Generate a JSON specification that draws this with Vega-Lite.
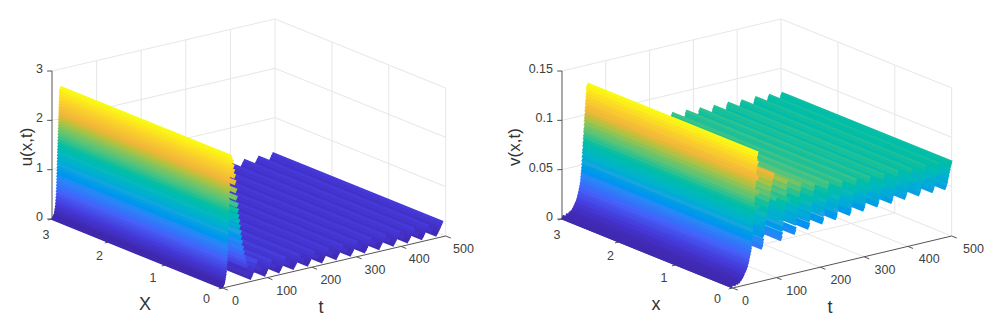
{"$schema":"https://vega.github.io/schema/vega-lite/v6.json","width":993,"height":321,"padding":0,"autosize":{"type":"fit","contains":"padding"},"background":"white","view":{"stroke":null},
"datasets":{
"surface":[
{"p":"u","t":493,"z":0.27},{"p":"u","t":490,"z":0.22},{"p":"u","t":487,"z":0.165},{"p":"u","t":484,"z":0.115},{"p":"u","t":481,"z":0.07},{"p":"u","t":471,"z":0.17},
{"p":"u","t":461,"z":0.27},{"p":"u","t":458,"z":0.22},{"p":"u","t":455,"z":0.165},{"p":"u","t":452,"z":0.115},{"p":"u","t":449,"z":0.07},{"p":"u","t":439,"z":0.17},
{"p":"u","t":429,"z":0.27},{"p":"u","t":426,"z":0.22},{"p":"u","t":423,"z":0.165},{"p":"u","t":420,"z":0.115},{"p":"u","t":417,"z":0.07},{"p":"u","t":407,"z":0.17},
{"p":"u","t":397,"z":0.27},{"p":"u","t":394,"z":0.22},{"p":"u","t":391,"z":0.165},{"p":"u","t":388,"z":0.115},{"p":"u","t":385,"z":0.07},{"p":"u","t":375,"z":0.17},
{"p":"u","t":365,"z":0.27},{"p":"u","t":362,"z":0.22},{"p":"u","t":359,"z":0.165},{"p":"u","t":356,"z":0.115},{"p":"u","t":353,"z":0.07},{"p":"u","t":343,"z":0.17},
{"p":"u","t":333,"z":0.27},{"p":"u","t":330,"z":0.22},{"p":"u","t":327,"z":0.165},{"p":"u","t":324,"z":0.115},{"p":"u","t":321,"z":0.07},{"p":"u","t":311,"z":0.17},
{"p":"u","t":301,"z":0.27},{"p":"u","t":298,"z":0.22},{"p":"u","t":295,"z":0.165},{"p":"u","t":292,"z":0.115},{"p":"u","t":289,"z":0.07},{"p":"u","t":279,"z":0.17},
{"p":"u","t":269,"z":0.27},{"p":"u","t":266,"z":0.22},{"p":"u","t":263,"z":0.165},{"p":"u","t":260,"z":0.115},{"p":"u","t":257,"z":0.07},{"p":"u","t":247,"z":0.17},
{"p":"u","t":237,"z":0.27},{"p":"u","t":234,"z":0.22},{"p":"u","t":231,"z":0.165},{"p":"u","t":228,"z":0.115},{"p":"u","t":225,"z":0.07},{"p":"u","t":215,"z":0.17},
{"p":"u","t":205,"z":0.27},{"p":"u","t":202,"z":0.22},{"p":"u","t":199,"z":0.165},{"p":"u","t":196,"z":0.115},{"p":"u","t":193,"z":0.07},{"p":"u","t":183,"z":0.17},
{"p":"u","t":173,"z":0.28},{"p":"u","t":170,"z":0.22},{"p":"u","t":167,"z":0.165},{"p":"u","t":164,"z":0.115},{"p":"u","t":161,"z":0.07},{"p":"u","t":151,"z":0.17},
{"p":"u","t":141,"z":0.29},{"p":"u","t":138,"z":0.23},{"p":"u","t":135,"z":0.17},{"p":"u","t":132,"z":0.115},{"p":"u","t":129,"z":0.07},{"p":"u","t":119,"z":0.18},
{"p":"u","t":109,"z":0.3},{"p":"u","t":106,"z":0.24},{"p":"u","t":103,"z":0.18},{"p":"u","t":100,"z":0.12},{"p":"u","t":97,"z":0.07},{"p":"u","t":87,"z":0.2},
{"p":"u","t":77,"z":0.36},{"p":"u","t":74,"z":0.28},{"p":"u","t":71,"z":0.2},{"p":"u","t":68,"z":0.13},{"p":"u","t":65,"z":0.07},
{"p":"u","t":60,"z":0.15},{"p":"u","t":56,"z":0.33},{"p":"u","t":53,"z":0.42},{"p":"u","t":50,"z":0.5},{"p":"u","t":48,"z":0.6},{"p":"u","t":46,"z":0.7},{"p":"u","t":44,"z":0.82},{"p":"u","t":42,"z":0.93},{"p":"u","t":41,"z":1.03},{"p":"u","t":39,"z":1.15},{"p":"u","t":38,"z":1.26},{"p":"u","t":36,"z":1.36},{"p":"u","t":35,"z":1.48},{"p":"u","t":34,"z":1.6},{"p":"u","t":32,"z":1.75},{"p":"u","t":31,"z":1.9},{"p":"u","t":29,"z":2.07},{"p":"u","t":28,"z":2.2},{"p":"u","t":26,"z":2.3},{"p":"u","t":25,"z":2.4},{"p":"u","t":23,"z":2.5},{"p":"u","t":21,"z":2.56},{"p":"u","t":19,"z":2.6},{"p":"u","t":18,"z":2.61},
{"p":"u","t":17.3,"z":2.6},{"p":"u","t":17,"z":2.56},{"p":"u","t":16.8,"z":2.5},{"p":"u","t":16.6,"z":2.44},{"p":"u","t":16.4,"z":2.38},{"p":"u","t":16.2,"z":2.32},{"p":"u","t":16,"z":2.26},{"p":"u","t":15.8,"z":2.2},{"p":"u","t":15.6,"z":2.14},{"p":"u","t":15.4,"z":2.08},{"p":"u","t":15.2,"z":2.02},{"p":"u","t":15,"z":1.96},{"p":"u","t":14.8,"z":1.9},{"p":"u","t":14.6,"z":1.84},{"p":"u","t":14.4,"z":1.78},{"p":"u","t":14.2,"z":1.72},{"p":"u","t":14,"z":1.66},{"p":"u","t":13.8,"z":1.6},{"p":"u","t":13.6,"z":1.54},{"p":"u","t":13.4,"z":1.48},{"p":"u","t":13.2,"z":1.42},{"p":"u","t":13,"z":1.36},{"p":"u","t":12.8,"z":1.3},{"p":"u","t":12.6,"z":1.24},{"p":"u","t":12.4,"z":1.18},{"p":"u","t":12.2,"z":1.12},{"p":"u","t":12,"z":1.06},{"p":"u","t":11.8,"z":1.0},{"p":"u","t":11.6,"z":0.94},{"p":"u","t":11.4,"z":0.88},{"p":"u","t":11.2,"z":0.82},{"p":"u","t":11,"z":0.76},{"p":"u","t":10.8,"z":0.7},{"p":"u","t":10.5,"z":0.64},{"p":"u","t":10.2,"z":0.58},{"p":"u","t":9.9,"z":0.52},{"p":"u","t":9.5,"z":0.46},{"p":"u","t":9,"z":0.4},{"p":"u","t":8.5,"z":0.34},{"p":"u","t":8,"z":0.28},{"p":"u","t":7,"z":0.22},{"p":"u","t":6,"z":0.17},{"p":"u","t":5,"z":0.12},{"p":"u","t":4,"z":0.08},{"p":"u","t":3,"z":0.05},{"p":"u","t":2,"z":0.04},{"p":"u","t":0,"z":0.03},
{"p":"v","t":500,"z":0.074},{"p":"v","t":499,"z":0.072},{"p":"v","t":497,"z":0.069},{"p":"v","t":496,"z":0.066},{"p":"v","t":494,"z":0.063},{"p":"v","t":493,"z":0.06},{"p":"v","t":491,"z":0.057},{"p":"v","t":490,"z":0.054},{"p":"v","t":488,"z":0.052},{"p":"v","t":487,"z":0.05},{"p":"v","t":481,"z":0.056},{"p":"v","t":476,"z":0.066},
{"p":"v","t":471,"z":0.075},{"p":"v","t":470,"z":0.073},{"p":"v","t":468,"z":0.07},{"p":"v","t":467,"z":0.067},{"p":"v","t":465,"z":0.064},{"p":"v","t":464,"z":0.06},{"p":"v","t":462,"z":0.057},{"p":"v","t":461,"z":0.054},{"p":"v","t":459,"z":0.052},{"p":"v","t":458,"z":0.05},{"p":"v","t":452,"z":0.056},{"p":"v","t":446,"z":0.066},
{"p":"v","t":440,"z":0.076},{"p":"v","t":439,"z":0.074},{"p":"v","t":437,"z":0.071},{"p":"v","t":436,"z":0.067},{"p":"v","t":434,"z":0.064},{"p":"v","t":433,"z":0.061},{"p":"v","t":431,"z":0.058},{"p":"v","t":430,"z":0.054},{"p":"v","t":428,"z":0.052},{"p":"v","t":427,"z":0.05},{"p":"v","t":420,"z":0.056},{"p":"v","t":414,"z":0.066},
{"p":"v","t":408,"z":0.076},{"p":"v","t":407,"z":0.074},{"p":"v","t":405,"z":0.071},{"p":"v","t":404,"z":0.067},{"p":"v","t":402,"z":0.064},{"p":"v","t":401,"z":0.061},{"p":"v","t":399,"z":0.058},{"p":"v","t":398,"z":0.054},{"p":"v","t":396,"z":0.052},{"p":"v","t":395,"z":0.05},{"p":"v","t":389,"z":0.056},{"p":"v","t":383,"z":0.066},
{"p":"v","t":377,"z":0.077},{"p":"v","t":376,"z":0.075},{"p":"v","t":374,"z":0.071},{"p":"v","t":373,"z":0.068},{"p":"v","t":371,"z":0.064},{"p":"v","t":370,"z":0.061},{"p":"v","t":368,"z":0.057},{"p":"v","t":367,"z":0.054},{"p":"v","t":365,"z":0.051},{"p":"v","t":364,"z":0.049},{"p":"v","t":357,"z":0.056},{"p":"v","t":351,"z":0.066},
{"p":"v","t":345,"z":0.077},{"p":"v","t":344,"z":0.075},{"p":"v","t":342,"z":0.071},{"p":"v","t":341,"z":0.068},{"p":"v","t":339,"z":0.064},{"p":"v","t":338,"z":0.061},{"p":"v","t":336,"z":0.057},{"p":"v","t":335,"z":0.054},{"p":"v","t":333,"z":0.051},{"p":"v","t":332,"z":0.049},{"p":"v","t":325,"z":0.056},{"p":"v","t":319,"z":0.066},
{"p":"v","t":313,"z":0.078},{"p":"v","t":312,"z":0.075},{"p":"v","t":310,"z":0.072},{"p":"v","t":309,"z":0.068},{"p":"v","t":307,"z":0.064},{"p":"v","t":306,"z":0.061},{"p":"v","t":304,"z":0.057},{"p":"v","t":303,"z":0.053},{"p":"v","t":301,"z":0.05},{"p":"v","t":300,"z":0.048},{"p":"v","t":294,"z":0.056},{"p":"v","t":288,"z":0.067},
{"p":"v","t":282,"z":0.079},{"p":"v","t":281,"z":0.076},{"p":"v","t":279,"z":0.072},{"p":"v","t":278,"z":0.068},{"p":"v","t":276,"z":0.065},{"p":"v","t":275,"z":0.061},{"p":"v","t":273,"z":0.057},{"p":"v","t":272,"z":0.053},{"p":"v","t":270,"z":0.049},{"p":"v","t":269,"z":0.047},{"p":"v","t":262,"z":0.056},{"p":"v","t":256,"z":0.068},
{"p":"v","t":250,"z":0.08},{"p":"v","t":249,"z":0.077},{"p":"v","t":247,"z":0.073},{"p":"v","t":246,"z":0.069},{"p":"v","t":244,"z":0.065},{"p":"v","t":243,"z":0.06},{"p":"v","t":241,"z":0.056},{"p":"v","t":240,"z":0.052},{"p":"v","t":238,"z":0.048},{"p":"v","t":237,"z":0.046},{"p":"v","t":231,"z":0.056},{"p":"v","t":225,"z":0.069},
{"p":"v","t":219,"z":0.082},{"p":"v","t":218,"z":0.079},{"p":"v","t":216,"z":0.074},{"p":"v","t":215,"z":0.07},{"p":"v","t":213,"z":0.065},{"p":"v","t":212,"z":0.061},{"p":"v","t":210,"z":0.056},{"p":"v","t":209,"z":0.052},{"p":"v","t":207,"z":0.047},{"p":"v","t":206,"z":0.045},{"p":"v","t":200,"z":0.056},{"p":"v","t":193,"z":0.07},
{"p":"v","t":187,"z":0.084},{"p":"v","t":186,"z":0.08},{"p":"v","t":184,"z":0.075},{"p":"v","t":183,"z":0.07},{"p":"v","t":181,"z":0.065},{"p":"v","t":180,"z":0.06},{"p":"v","t":178,"z":0.055},{"p":"v","t":177,"z":0.05},{"p":"v","t":175,"z":0.045},{"p":"v","t":174,"z":0.043},{"p":"v","t":168,"z":0.056},{"p":"v","t":162,"z":0.072},
{"p":"v","t":156,"z":0.088},{"p":"v","t":155,"z":0.083},{"p":"v","t":153,"z":0.078},{"p":"v","t":152,"z":0.072},{"p":"v","t":150,"z":0.067},{"p":"v","t":149,"z":0.061},{"p":"v","t":147,"z":0.055},{"p":"v","t":146,"z":0.05},{"p":"v","t":144,"z":0.044},{"p":"v","t":143,"z":0.041},{"p":"v","t":137,"z":0.056},{"p":"v","t":131,"z":0.075},
{"p":"v","t":125,"z":0.094},{"p":"v","t":124,"z":0.088},{"p":"v","t":123,"z":0.082},{"p":"v","t":122,"z":0.077},{"p":"v","t":121,"z":0.072},{"p":"v","t":120,"z":0.067},{"p":"v","t":119,"z":0.062},{"p":"v","t":118,"z":0.057},{"p":"v","t":116,"z":0.052},{"p":"v","t":115,"z":0.047},{"p":"v","t":113,"z":0.042},{"p":"v","t":112,"z":0.038},{"p":"v","t":106,"z":0.058},{"p":"v","t":100,"z":0.08},
{"p":"v","t":94,"z":0.104},{"p":"v","t":92,"z":0.1},{"p":"v","t":90,"z":0.095},{"p":"v","t":88,"z":0.09},{"p":"v","t":86,"z":0.085},{"p":"v","t":84,"z":0.08},{"p":"v","t":82,"z":0.075},{"p":"v","t":80,"z":0.07},{"p":"v","t":78,"z":0.065},{"p":"v","t":76,"z":0.06},{"p":"v","t":74,"z":0.055},{"p":"v","t":72,"z":0.05},{"p":"v","t":71,"z":0.045},{"p":"v","t":70,"z":0.04},{"p":"v","t":69,"z":0.037},{"p":"v","t":68,"z":0.034},
{"p":"v","t":66,"z":0.04},{"p":"v","t":65,"z":0.048},{"p":"v","t":63,"z":0.06},{"p":"v","t":61,"z":0.075},{"p":"v","t":60,"z":0.09},{"p":"v","t":59,"z":0.105},{"p":"v","t":58,"z":0.12},
{"p":"v","t":57,"z":0.13},{"p":"v","t":56.5,"z":0.129},{"p":"v","t":56,"z":0.127},{"p":"v","t":55.5,"z":0.123},{"p":"v","t":55,"z":0.12},{"p":"v","t":54.5,"z":0.116},{"p":"v","t":54,"z":0.113},{"p":"v","t":53.5,"z":0.109},{"p":"v","t":53,"z":0.106},{"p":"v","t":52.5,"z":0.102},{"p":"v","t":52,"z":0.099},{"p":"v","t":51.5,"z":0.096},{"p":"v","t":51,"z":0.092},{"p":"v","t":50.5,"z":0.088},{"p":"v","t":50,"z":0.085},{"p":"v","t":49.5,"z":0.081},{"p":"v","t":49,"z":0.078},{"p":"v","t":48.5,"z":0.074},{"p":"v","t":48,"z":0.071},{"p":"v","t":47.5,"z":0.067},{"p":"v","t":47,"z":0.064},{"p":"v","t":46.4,"z":0.06},{"p":"v","t":46,"z":0.056},{"p":"v","t":45.6,"z":0.0525},{"p":"v","t":45.2,"z":0.049},{"p":"v","t":44.6,"z":0.046},{"p":"v","t":44,"z":0.043},{"p":"v","t":43.4,"z":0.04},{"p":"v","t":42.8,"z":0.037},{"p":"v","t":42.2,"z":0.034},{"p":"v","t":41,"z":0.031},{"p":"v","t":39.5,"z":0.028},{"p":"v","t":38,"z":0.025},{"p":"v","t":36.5,"z":0.022},{"p":"v","t":35,"z":0.0195},{"p":"v","t":33,"z":0.0165},{"p":"v","t":31,"z":0.0145},{"p":"v","t":28,"z":0.012},{"p":"v","t":25,"z":0.009},{"p":"v","t":22,"z":0.007},{"p":"v","t":18,"z":0.005},{"p":"v","t":14,"z":0.004},{"p":"v","t":8,"z":0.003},{"p":"v","t":0,"z":0.002}
],
"grid":[
{"p":"u","x1":3,"t1":0,"z1":1,"x2":3,"t2":500,"z2":1},{"p":"u","x1":3,"t1":0,"z1":2,"x2":3,"t2":500,"z2":2},{"p":"u","x1":3,"t1":0,"z1":3,"x2":3,"t2":500,"z2":3},
{"p":"u","x1":3,"t1":500,"z1":0,"x2":0,"t2":500,"z2":0},{"p":"u","x1":3,"t1":500,"z1":1,"x2":0,"t2":500,"z2":1},{"p":"u","x1":3,"t1":500,"z1":2,"x2":0,"t2":500,"z2":2},{"p":"u","x1":3,"t1":500,"z1":3,"x2":0,"t2":500,"z2":3},
{"p":"u","x1":3,"t1":100,"z1":0,"x2":0,"t2":100,"z2":0},{"p":"u","x1":3,"t1":200,"z1":0,"x2":0,"t2":200,"z2":0},{"p":"u","x1":3,"t1":300,"z1":0,"x2":0,"t2":300,"z2":0},{"p":"u","x1":3,"t1":400,"z1":0,"x2":0,"t2":400,"z2":0},
{"p":"u","x1":3,"t1":100,"z1":0,"x2":3,"t2":100,"z2":3},{"p":"u","x1":3,"t1":200,"z1":0,"x2":3,"t2":200,"z2":3},{"p":"u","x1":3,"t1":300,"z1":0,"x2":3,"t2":300,"z2":3},{"p":"u","x1":3,"t1":400,"z1":0,"x2":3,"t2":400,"z2":3},{"p":"u","x1":3,"t1":500,"z1":0,"x2":3,"t2":500,"z2":3},
{"p":"u","x1":3,"t1":0,"z1":0,"x2":3,"t2":500,"z2":0},{"p":"u","x1":2,"t1":0,"z1":0,"x2":2,"t2":500,"z2":0},{"p":"u","x1":1,"t1":0,"z1":0,"x2":1,"t2":500,"z2":0},
{"p":"u","x1":2,"t1":500,"z1":0,"x2":2,"t2":500,"z2":3},{"p":"u","x1":1,"t1":500,"z1":0,"x2":1,"t2":500,"z2":3},{"p":"u","x1":0,"t1":500,"z1":0,"x2":0,"t2":500,"z2":3},
{"p":"v","x1":3,"t1":0,"z1":0.05,"x2":3,"t2":500,"z2":0.05},{"p":"v","x1":3,"t1":0,"z1":0.1,"x2":3,"t2":500,"z2":0.1},{"p":"v","x1":3,"t1":0,"z1":0.15,"x2":3,"t2":500,"z2":0.15},
{"p":"v","x1":3,"t1":500,"z1":0,"x2":0,"t2":500,"z2":0},{"p":"v","x1":3,"t1":500,"z1":0.05,"x2":0,"t2":500,"z2":0.05},{"p":"v","x1":3,"t1":500,"z1":0.1,"x2":0,"t2":500,"z2":0.1},{"p":"v","x1":3,"t1":500,"z1":0.15,"x2":0,"t2":500,"z2":0.15},
{"p":"v","x1":3,"t1":100,"z1":0,"x2":0,"t2":100,"z2":0},{"p":"v","x1":3,"t1":200,"z1":0,"x2":0,"t2":200,"z2":0},{"p":"v","x1":3,"t1":300,"z1":0,"x2":0,"t2":300,"z2":0},{"p":"v","x1":3,"t1":400,"z1":0,"x2":0,"t2":400,"z2":0},
{"p":"v","x1":3,"t1":100,"z1":0,"x2":3,"t2":100,"z2":0.15},{"p":"v","x1":3,"t1":200,"z1":0,"x2":3,"t2":200,"z2":0.15},{"p":"v","x1":3,"t1":300,"z1":0,"x2":3,"t2":300,"z2":0.15},{"p":"v","x1":3,"t1":400,"z1":0,"x2":3,"t2":400,"z2":0.15},{"p":"v","x1":3,"t1":500,"z1":0,"x2":3,"t2":500,"z2":0.15},
{"p":"v","x1":3,"t1":0,"z1":0,"x2":3,"t2":500,"z2":0},{"p":"v","x1":2,"t1":0,"z1":0,"x2":2,"t2":500,"z2":0},{"p":"v","x1":1,"t1":0,"z1":0,"x2":1,"t2":500,"z2":0},
{"p":"v","x1":2,"t1":500,"z1":0,"x2":2,"t2":500,"z2":0.15},{"p":"v","x1":1,"t1":500,"z1":0,"x2":1,"t2":500,"z2":0.15},{"p":"v","x1":0,"t1":500,"z1":0,"x2":0,"t2":500,"z2":0.15}
],
"axes":[
{"p":"u","x1":3,"t1":0,"z1":0,"x2":3,"t2":0,"z2":3},{"p":"u","x1":3,"t1":0,"z1":0,"x2":0,"t2":0,"z2":0},{"p":"u","x1":0,"t1":0,"z1":0,"x2":0,"t2":500,"z2":0},
{"p":"u","x1":3.03,"t1":-7,"z1":0,"x2":3,"t2":0,"z2":0},{"p":"u","x1":3.03,"t1":-7,"z1":1,"x2":3,"t2":0,"z2":1},{"p":"u","x1":3.03,"t1":-7,"z1":2,"x2":3,"t2":0,"z2":2},{"p":"u","x1":3.03,"t1":-7,"z1":3,"x2":3,"t2":0,"z2":3},
{"p":"u","x1":3,"t1":-9,"z1":0,"x2":3,"t2":0,"z2":0},{"p":"u","x1":2,"t1":-9,"z1":0,"x2":2,"t2":0,"z2":0},{"p":"u","x1":1,"t1":-9,"z1":0,"x2":1,"t2":0,"z2":0},{"p":"u","x1":0,"t1":-9,"z1":0,"x2":0,"t2":0,"z2":0},
{"p":"u","x1":-0.09,"t1":0,"z1":0,"x2":0,"t2":0,"z2":0},{"p":"u","x1":-0.09,"t1":100,"z1":0,"x2":0,"t2":100,"z2":0},{"p":"u","x1":-0.09,"t1":200,"z1":0,"x2":0,"t2":200,"z2":0},{"p":"u","x1":-0.09,"t1":300,"z1":0,"x2":0,"t2":300,"z2":0},{"p":"u","x1":-0.09,"t1":400,"z1":0,"x2":0,"t2":400,"z2":0},{"p":"u","x1":-0.09,"t1":500,"z1":0,"x2":0,"t2":500,"z2":0},
{"p":"v","x1":3,"t1":0,"z1":0,"x2":3,"t2":0,"z2":0.15},{"p":"v","x1":3,"t1":0,"z1":0,"x2":0,"t2":0,"z2":0},{"p":"v","x1":0,"t1":0,"z1":0,"x2":0,"t2":500,"z2":0},
{"p":"v","x1":3.03,"t1":-7,"z1":0,"x2":3,"t2":0,"z2":0},{"p":"v","x1":3.03,"t1":-7,"z1":0.05,"x2":3,"t2":0,"z2":0.05},{"p":"v","x1":3.03,"t1":-7,"z1":0.1,"x2":3,"t2":0,"z2":0.1},{"p":"v","x1":3.03,"t1":-7,"z1":0.15,"x2":3,"t2":0,"z2":0.15},
{"p":"v","x1":3,"t1":-9,"z1":0,"x2":3,"t2":0,"z2":0},{"p":"v","x1":2,"t1":-9,"z1":0,"x2":2,"t2":0,"z2":0},{"p":"v","x1":1,"t1":-9,"z1":0,"x2":1,"t2":0,"z2":0},{"p":"v","x1":0,"t1":-9,"z1":0,"x2":0,"t2":0,"z2":0},
{"p":"v","x1":-0.09,"t1":0,"z1":0,"x2":0,"t2":0,"z2":0},{"p":"v","x1":-0.09,"t1":100,"z1":0,"x2":0,"t2":100,"z2":0},{"p":"v","x1":-0.09,"t1":200,"z1":0,"x2":0,"t2":200,"z2":0},{"p":"v","x1":-0.09,"t1":300,"z1":0,"x2":0,"t2":300,"z2":0},{"p":"v","x1":-0.09,"t1":400,"z1":0,"x2":0,"t2":400,"z2":0},{"p":"v","x1":-0.09,"t1":500,"z1":0,"x2":0,"t2":500,"z2":0}
],
"zlabels":[{"p":"u","v":0,"l":"0"},{"p":"u","v":1,"l":"1"},{"p":"u","v":2,"l":"2"},{"p":"u","v":3,"l":"3"},{"p":"v","v":0,"l":"0"},{"p":"v","v":0.05,"l":"0.05"},{"p":"v","v":0.1,"l":"0.1"},{"p":"v","v":0.15,"l":"0.15"}],
"xlabels":[{"p":"u","v":0,"l":"0"},{"p":"u","v":1,"l":"1"},{"p":"u","v":2,"l":"2"},{"p":"u","v":3,"l":"3"},{"p":"v","v":0,"l":"0"},{"p":"v","v":1,"l":"1"},{"p":"v","v":2,"l":"2"},{"p":"v","v":3,"l":"3"}],
"tlabels":[{"p":"u","v":0,"l":"0"},{"p":"u","v":100,"l":"100"},{"p":"u","v":200,"l":"200"},{"p":"u","v":300,"l":"300"},{"p":"u","v":400,"l":"400"},{"p":"u","v":500,"l":"500"},{"p":"v","v":0,"l":"0"},{"p":"v","v":100,"l":"100"},{"p":"v","v":200,"l":"200"},{"p":"v","v":300,"l":"300"},{"p":"v","v":400,"l":"400"},{"p":"v","v":500,"l":"500"}],
"titles":[{"p":"u","a":"z","l":"u(x,t)"},{"p":"v","a":"z","l":"v(x,t)"},{"p":"u","a":"x","l":"X"},{"p":"v","a":"x","l":"x"},{"p":"u","a":"t","l":"t"},{"p":"v","a":"t","l":"t"}]
},
"layer":[
{"data":{"name":"grid"},"transform":[
{"calculate":"datum.p=='u'?52:562","as":"o"},{"calculate":"datum.p=='u'?0.446:0.438","as":"k"},{"calculate":"datum.p=='u'?148/3:148/0.15","as":"s"},
{"calculate":"datum.o+(3-datum.x1)*56.9+datum.k*datum.t1","as":"X1"},{"calculate":"219+(3-datum.x1)*23-0.104*datum.t1-datum.s*datum.z1","as":"Y1"},
{"calculate":"datum.o+(3-datum.x2)*56.9+datum.k*datum.t2","as":"X2"},{"calculate":"219+(3-datum.x2)*23-0.104*datum.t2-datum.s*datum.z2","as":"Y2"}],
"mark":{"type":"rule","color":"#e6e6e6","strokeWidth":1},
"encoding":{"x":{"field":"X1","type":"quantitative","scale":{"domain":[0,993],"nice":false,"zero":false},"axis":null},"y":{"field":"Y1","type":"quantitative","scale":{"domain":[321,0],"nice":false,"zero":false},"axis":null},"x2":{"field":"X2"},"y2":{"field":"Y2"}}},
{"data":{"name":"axes"},"transform":[
{"calculate":"datum.p=='u'?52:562","as":"o"},{"calculate":"datum.p=='u'?0.446:0.438","as":"k"},{"calculate":"datum.p=='u'?148/3:148/0.15","as":"s"},
{"calculate":"datum.o+(3-datum.x1)*56.9+datum.k*datum.t1","as":"X1"},{"calculate":"219+(3-datum.x1)*23-0.104*datum.t1-datum.s*datum.z1","as":"Y1"},
{"calculate":"datum.o+(3-datum.x2)*56.9+datum.k*datum.t2","as":"X2"},{"calculate":"219+(3-datum.x2)*23-0.104*datum.t2-datum.s*datum.z2","as":"Y2"}],
"mark":{"type":"rule","color":"#555555","strokeWidth":1},
"encoding":{"x":{"field":"X1","type":"quantitative","axis":null},"y":{"field":"Y1","type":"quantitative","axis":null},"x2":{"field":"X2"},"y2":{"field":"Y2"}}},
{"data":{"name":"surface"},"transform":[
{"calculate":"datum.p=='u'?52:562","as":"o"},{"calculate":"datum.p=='u'?0.446:0.438","as":"k"},{"calculate":"datum.p=='u'?148/3:148/0.15","as":"s"},
{"calculate":"datum.z/(datum.p=='u'?2.61:0.13)","as":"c"},
{"calculate":"datum.o+170.7+datum.k*datum.t","as":"X1"},{"calculate":"288-0.104*datum.t-datum.s*datum.z","as":"Y1"},
{"calculate":"datum.o+datum.k*datum.t","as":"X2"},{"calculate":"219-0.104*datum.t-datum.s*datum.z","as":"Y2"}],
"mark":{"type":"rule","strokeWidth":5},
"encoding":{"x":{"field":"X1","type":"quantitative","axis":null},"y":{"field":"Y1","type":"quantitative","axis":null},"x2":{"field":"X2"},"y2":{"field":"Y2"},
"color":{"field":"c","type":"quantitative","legend":null,"scale":{"domain":[0,0.1,0.2,0.3,0.4,0.5,0.6,0.7,0.8,0.9,1],"range":["#3e26a8","#4538d8","#4660f8","#2e87f7","#1ea4de","#0cb8bc","#2cc190","#86c45c","#f0b63a","#fbd22a","#f9fb15"]}}}},
{"data":{"name":"zlabels"},"transform":[{"calculate":"(datum.p=='u'?52:562)-9","as":"X"},{"calculate":"217-(datum.p=='u'?148/3:148/0.15)*datum.v","as":"Y"}],
"mark":{"type":"text","font":"Liberation Sans","fontSize":12.5,"align":"right","baseline":"middle","color":"#404040"},
"encoding":{"x":{"field":"X","type":"quantitative","axis":null},"y":{"field":"Y","type":"quantitative","axis":null},"text":{"field":"l"}}},
{"data":{"name":"xlabels"},"transform":[{"calculate":"(datum.p=='u'?46:557)+(3-datum.v)*53.5","as":"X"},{"calculate":"234.5+(3-datum.v)*21.5","as":"Y"}],
"mark":{"type":"text","font":"Liberation Sans","fontSize":12.5,"align":"center","baseline":"middle","color":"#404040"},
"encoding":{"x":{"field":"X","type":"quantitative","axis":null},"y":{"field":"Y","type":"quantitative","axis":null},"text":{"field":"l"}}},
{"data":{"name":"tlabels"},"transform":[{"calculate":"(datum.p=='u'?232:742)+0.442*datum.v","as":"X"},{"calculate":"301-0.105*datum.v","as":"Y"}],
"mark":{"type":"text","font":"Liberation Sans","fontSize":12.5,"align":"left","baseline":"middle","color":"#404040"},
"encoding":{"x":{"field":"X","type":"quantitative","axis":null},"y":{"field":"Y","type":"quantitative","axis":null},"text":{"field":"l"}}},
{"data":{"name":"titles"},"transform":[{"filter":"datum.a=='z'"},{"calculate":"datum.p=='u'?27:515","as":"X"},{"calculate":"147","as":"Y"}],
"mark":{"type":"text","font":"Liberation Sans","fontSize":17,"align":"center","baseline":"middle","angle":270,"color":"#333333"},
"encoding":{"x":{"field":"X","type":"quantitative","axis":null},"y":{"field":"Y","type":"quantitative","axis":null},"text":{"field":"l"}}},
{"data":{"name":"titles"},"transform":[{"filter":"datum.a!='z'"},{"calculate":"datum.a=='x'?(datum.p=='u'?145:656):(datum.p=='u'?321:830)","as":"X"},{"calculate":"datum.a=='x'?305:308","as":"Y"}],
"mark":{"type":"text","font":"Liberation Sans","fontSize":18,"align":"center","baseline":"middle","color":"#333333"},
"encoding":{"x":{"field":"X","type":"quantitative","axis":null},"y":{"field":"Y","type":"quantitative","axis":null},"text":{"field":"l"}}}
]}
